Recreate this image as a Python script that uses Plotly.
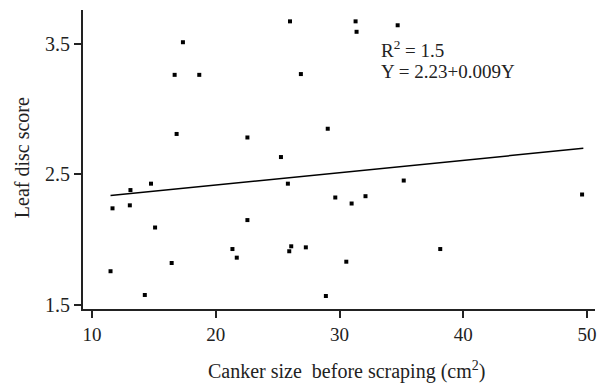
import plotly.graph_objects as go

# Scatter data (canker size cm^2, leaf disc score)
canker_size = [17.35, 16.68, 18.67, 16.84, 22.56,
               26.0, 31.3, 31.38, 34.7, 26.88, 29.05, 25.27,
               13.11, 14.77, 11.66, 13.06, 15.1, 22.56, 21.35, 21.7, 16.44, 11.5, 14.27,
               25.83, 35.19, 29.66, 30.98, 32.1, 26.1, 25.94, 27.28, 30.55, 28.9,
               49.6, 38.14]
leaf_score = [3.51, 3.26, 3.26, 2.807, 2.78,
              3.67, 3.67, 3.59, 3.64, 3.266, 2.847, 2.63,
              2.377, 2.426, 2.237, 2.26, 2.09, 2.147, 1.925, 1.859, 1.818, 1.755, 1.573,
              2.426, 2.45, 2.32, 2.274, 2.33, 1.946, 1.908, 1.938, 1.828, 1.565,
              2.343, 1.925]

# Regression line end points (Y = 2.23 + 0.009X)
line_x = [11.5, 49.7]
line_y = [2.335, 2.697]

x_ticks = [10, 20, 30, 40, 50]
y_ticks = [1.5, 2.5, 3.5]

FONT = "Liberation Serif"

fig = go.Figure()
fig.add_trace(go.Scatter(x=line_x, y=line_y, mode="lines",
                         line=dict(color="black", width=1.5), showlegend=False))
fig.add_trace(go.Scatter(x=canker_size, y=leaf_score, mode="markers",
                         marker=dict(symbol="square", size=4, color="black"),
                         showlegend=False))

fig.update_layout(
    width=597, height=383,
    margin=dict(l=83, r=0, t=10, b=74),
    paper_bgcolor="white", plot_bgcolor="white",
    font=dict(family=FONT, size=20, color="#222"),
    xaxis=dict(range=[9.276, 50.644], tickvals=x_ticks, ticktext=[str(v) for v in x_ticks],
               showgrid=False, zeroline=False, showline=True, linecolor="#222", linewidth=2,
               ticks="outside", ticklen=7, tickwidth=2, tickcolor="#222",
               ticklabeloverflow="allow", tickfont=dict(size=19)),
    yaxis=dict(range=[1.4655, 3.757], tickvals=y_ticks, ticktext=[str(v) for v in y_ticks],
               showgrid=False, zeroline=False, showline=True, linecolor="#222", linewidth=2,
               ticks="outside", ticklen=7, tickwidth=2, tickcolor="#222"),
    annotations=[
        dict(text="R<sup>2</sup> = 1.5", x=33.18, y=3.458, xref="x", yref="y",
             xanchor="left", yanchor="middle", showarrow=False, font=dict(size=19)),
        dict(text="Y = 2.23+0.009Y", x=33.18, y=3.282, xref="x", yref="y",
             xanchor="left", yanchor="middle", showarrow=False, font=dict(size=19)),
        dict(text="Canker size\u00a0 before scraping (cm<sup>2</sup>)", x=0.5156, y=-0.207,
             xref="paper", yref="paper", xanchor="center", yanchor="middle",
             showarrow=False, font=dict(size=20)),
        dict(text="Leaf disc score", x=-0.1187, y=2.623, xref="paper", yref="y",
             xanchor="center", yanchor="middle", textangle=-90,
             showarrow=False, font=dict(size=20)),
    ],
)

fig.write_html("out.html", config={"displayModeBar": False},
               post_script="document.body.style.margin='0';document.body.style.overflow='hidden';")
